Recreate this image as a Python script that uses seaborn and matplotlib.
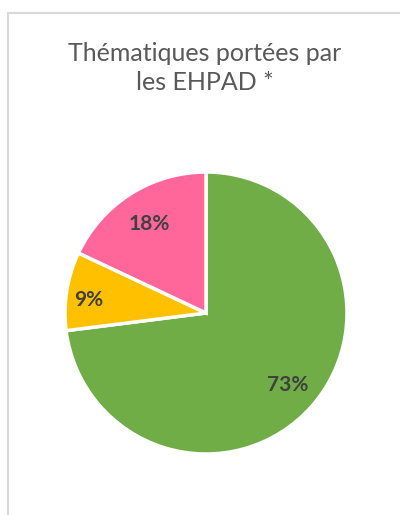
import matplotlib
matplotlib.use("Agg")
import matplotlib.pyplot as plt
import seaborn as sns
import numpy as np
from matplotlib.patches import Rectangle

# Data
categories = ["Thème A", "Thème B", "Thème C"]
values = [73, 9, 18]
title = "Thématiques portées par\nles EHPAD *"

sns.set_theme(style="white")
plt.rcParams['font.family'] = ['Lato', 'DejaVu Sans']

colors = sns.color_palette(["#70AD47", "#FFC000", "#FF6699"])

W, H = 400, 515
fig = plt.figure(figsize=(W / 100, H / 100), dpi=100)
fig.patch.set_facecolor("white")

# chart border
fig.patches.append(Rectangle((8 / W, -0.05), 1.2, (H - 13) / H + 0.05,
                             transform=fig.transFigure, fill=False,
                             edgecolor="#D9D9D9", linewidth=1.5))

cx, cy, r = 206, 313, 141
ax = fig.add_axes([(cx - r) / W, (H - cy - r) / H, 2 * r / W, 2 * r / H])
wedges, texts, autotexts = ax.pie(
    values, colors=colors, startangle=90, counterclock=False,
    autopct=lambda p: f"{p:.0f}%", pctdistance=0.77,
    wedgeprops=dict(edgecolor="white", linewidth=2.5),
    textprops=dict(color="#404040", fontsize=15, fontweight="bold"))
ax.set_xlim(-1, 1)
ax.set_ylim(-1, 1)
ax.set_aspect("equal")

# per-label placement (Excel best fit)
dist = [0.77, 0.835, 0.75]
dang = [0.0, 2.7, 0.0]
for w, t, d, da in zip(wedges, autotexts, dist, dang):
    ang = np.deg2rad((w.theta1 + w.theta2) / 2 + da)
    t.set_position((d * np.cos(ang), d * np.sin(ang)))

fig.text(205 / W, 1 - 68 / H, title, ha="center", va="center",
         fontsize=18, color="#595959", linespacing=1.35)

fig.savefig("out.png", dpi=100, facecolor="white")
